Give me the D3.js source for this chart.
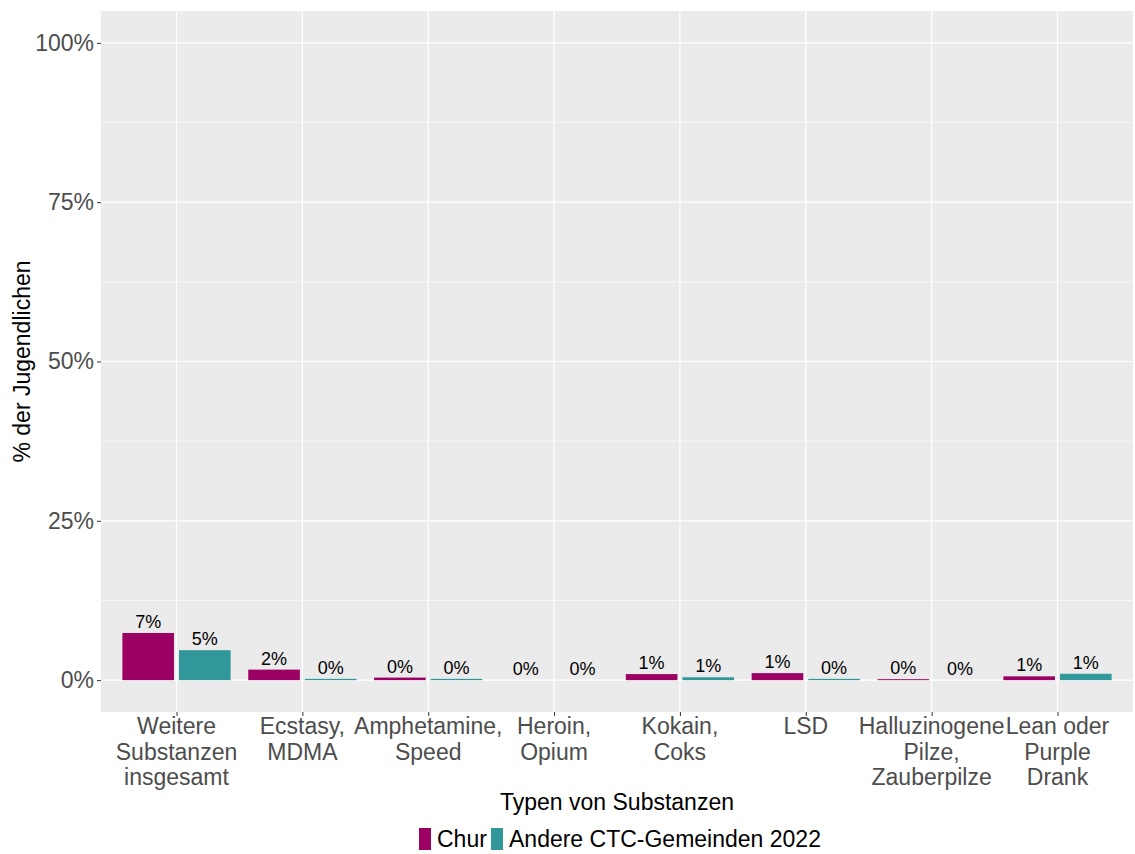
<!DOCTYPE html>
<html>
<head>
<meta charset="utf-8">
<script src="https://cdn.jsdelivr.net/npm/d3@7"></script>
<style>
  body { margin: 0; background: #fff; }
  text { font-family: "Liberation Sans", Arial, sans-serif; }
</style>
</head>
<body>
<div class="canvas"></div>
<script>
const categories = [
  ['Weitere', 'Substanzen', 'insgesamt'],
  ['Ecstasy,', 'MDMA'],
  ['Amphetamine,', 'Speed'],
  ['Heroin,', 'Opium'],
  ['Kokain,', 'Coks'],
  ['LSD'],
  ['Halluzinogene', 'Pilze,', 'Zauberpilze'],
  ['Lean oder', 'Purple', 'Drank']
];
const seriesNames = ['Chur', 'Andere CTC-Gemeinden 2022'];
const churValues = [7.4, 1.65, 0.4, 0, 0.95, 1.1, 0.15, 0.6];
const andereValues = [4.7, 0.2, 0.2, 0, 0.45, 0.2, 0, 1.0];
const churLabels = ['7%', '2%', '0%', '0%', '1%', '1%', '0%', '1%'];
const andereLabels = ['5%', '0%', '0%', '0%', '1%', '0%', '0%', '1%'];
const yTicks = [0, 25, 50, 75, 100];
const yMinor = [12.5, 37.5, 62.5, 87.5];
const colors = ['#9B0063', '#31979A'];

const WIDTH = 1135, HEIGHT = 854;
const MARGIN = { left: 101, right: 2, top: 11, bottom: 142 };
const GRAPH_WIDTH = WIDTH - MARGIN.left - MARGIN.right;
const GRAPH_HEIGHT = HEIGHT - MARGIN.top - MARGIN.bottom;

const svg = d3.select('.canvas').append('svg')
  .attr('width', WIDTH)
  .attr('height', HEIGHT);

const graph = svg.append('g')
  .attr('transform', `translate(${MARGIN.left}, ${MARGIN.top})`);

//scales
const n = categories.length;
const x = d3.scaleLinear().domain([0.4, n + 0.6]).range([0, GRAPH_WIDTH]);
const y = d3.scaleLinear().domain([-5, 105]).range([GRAPH_HEIGHT, 0]);
const barW = 0.41, barGap = 0.04;

//panel
graph.append('rect')
  .attr('width', GRAPH_WIDTH)
  .attr('height', GRAPH_HEIGHT)
  .attr('fill', '#EBEBEB');

graph.selectAll('.minor')
  .data(yMinor).enter().append('line')
  .attr('x1', 0).attr('x2', GRAPH_WIDTH)
  .attr('y1', d => y(d)).attr('y2', d => y(d))
  .attr('stroke', '#fff').attr('stroke-width', 0.6);

graph.selectAll('.major')
  .data(yTicks).enter().append('line')
  .attr('x1', 0).attr('x2', GRAPH_WIDTH)
  .attr('y1', d => y(d)).attr('y2', d => y(d))
  .attr('stroke', '#fff').attr('stroke-width', 1.2);

graph.selectAll('.vgrid')
  .data(d3.range(1, n + 1)).enter().append('line')
  .attr('x1', d => x(d)).attr('x2', d => x(d))
  .attr('y1', 0).attr('y2', GRAPH_HEIGHT)
  .attr('stroke', '#fff').attr('stroke-width', 1.2);

//bars
const series = [churValues, andereValues];
const labels = [churLabels, andereLabels];
series.forEach((vals, s) => {
  const offset = s === 0 ? -(barGap / 2 + barW) : barGap / 2;
  graph.selectAll(`.bar${s}`)
    .data(vals).enter().append('rect')
    .attr('x', (d, i) => x(i + 1 + offset))
    .attr('width', x(barW) - x(0))
    .attr('y', d => y(d))
    .attr('height', d => y(0) - y(d))
    .attr('fill', colors[s]);

  graph.selectAll(`.lab${s}`)
    .data(vals).enter().append('text')
    .attr('x', (d, i) => x(i + 1 + offset + barW / 2))
    .attr('y', d => y(d) - 5)
    .attr('text-anchor', 'middle')
    .attr('font-size', 18)
    .attr('fill', '#000')
    .text((d, i) => labels[s][i]);
});

//y axis
const yAxisGroup = graph.append('g')
  .call(d3.axisLeft(y).tickValues(yTicks).tickFormat(d => d + '%').tickSizeOuter(0).tickSize(4).tickPadding(3));
yAxisGroup.select('.domain').remove();
yAxisGroup.selectAll('line').attr('stroke', '#333');
yAxisGroup.selectAll('text')
  .attr('font-size', 23)
  .attr('fill', '#4D4D4D')
  .attr('font-family', '"Liberation Sans", Arial, sans-serif');

//x axis
const xAxisGroup = graph.append('g')
  .attr('transform', `translate(0, ${GRAPH_HEIGHT})`)
  .call(d3.axisBottom(x).tickValues(d3.range(1, n + 1)).tickFormat('').tickSizeOuter(0).tickSize(4));
xAxisGroup.select('.domain').remove();
xAxisGroup.selectAll('line').attr('stroke', '#333');

const xLabels = graph.append('g').attr('transform', `translate(0, ${GRAPH_HEIGHT})`);
categories.forEach((lines, i) => {
  const t = xLabels.append('text')
    .attr('x', x(i + 1))
    .attr('y', 22)
    .attr('text-anchor', 'middle')
    .attr('font-size', 23)
    .attr('fill', '#4D4D4D');
  lines.forEach((l, j) => {
    t.append('tspan').attr('x', x(i + 1)).attr('dy', j === 0 ? 0 : 25.5).text(l);
  });
});

//axis titles
svg.append('text')
  .attr('x', MARGIN.left + GRAPH_WIDTH / 2)
  .attr('y', 810)
  .attr('text-anchor', 'middle')
  .attr('font-size', 23)
  .text('Typen von Substanzen');

svg.append('text')
  .attr('transform', `translate(30, ${MARGIN.top + GRAPH_HEIGHT / 2}) rotate(-90)`)
  .attr('text-anchor', 'middle')
  .attr('font-size', 23)
  .text('% der Jugendlichen');

//legend
const legend = svg.append('g').attr('transform', 'translate(419, 828)');
const legendX = [0, 72];
seriesNames.forEach((name, s) => {
  legend.append('rect')
    .attr('x', legendX[s]).attr('y', 0)
    .attr('width', 12).attr('height', 22)
    .attr('fill', colors[s]);
  legend.append('text')
    .attr('x', legendX[s] + 18).attr('y', 19)
    .attr('font-size', 23)
    .text(name);
});
</script>
</body>
</html>
